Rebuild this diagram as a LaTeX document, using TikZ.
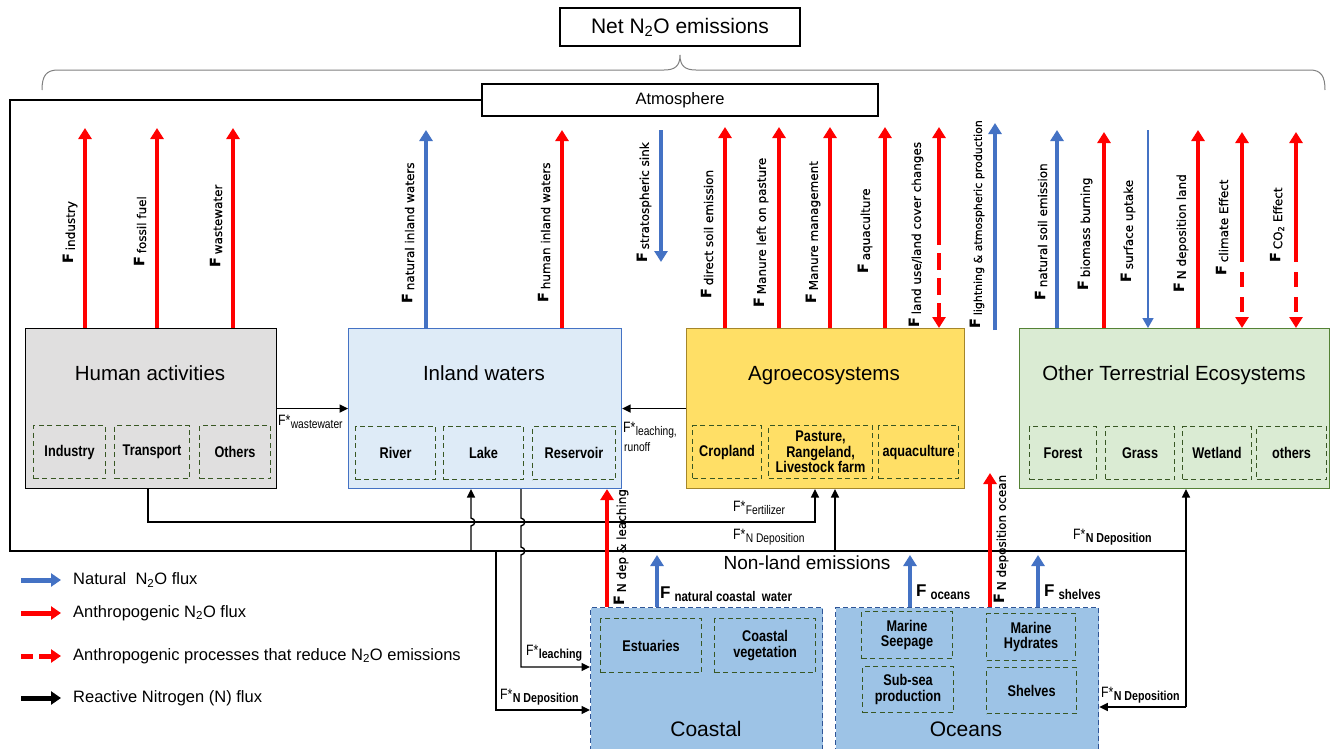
\documentclass[tikz,border=0pt]{standalone}
\usepackage{fontspec}
\setmainfont{Liberation Sans}
\newfontfamily\narf[FakeStretch=0.82]{Liberation Sans}
\newfontfamily\dvs[FakeBold=0.4]{DejaVu Sans}
\usetikzlibrary{arrows.meta}
\definecolor{nblue}{HTML}{4472C4}
\definecolor{nred}{HTML}{FF0000}
\definecolor{hgray}{HTML}{E0DFDF}
\definecolor{iblue}{HTML}{DEEBF7}
\definecolor{iblueb}{HTML}{4472C4}
\definecolor{ayel}{HTML}{FFDF66}
\definecolor{ayelb}{HTML}{A5862A}
\definecolor{ogreen}{HTML}{DAEBD3}
\definecolor{ogreenb}{HTML}{548235}
\definecolor{cblue}{HTML}{9DC3E6}
\definecolor{cblueb}{HTML}{2F5597}
\definecolor{dgreen}{HTML}{385723}
\definecolor{bracegray}{HTML}{808080}
\newcommand{\myVF}[2][12]{{\bfseries\fontsize{14}{14}\selectfont F}\kern3pt\raisebox{-2pt}{\fontsize{#1}{14}\selectfont #2}}
\newcommand{\myHF}[1]{{\bfseries\fontsize{17}{17}\selectfont F}\kern4pt\raisebox{-3pt}{\narf\bfseries\fontsize{14}{15}\selectfont #1}}
\newcommand{\mySF}[1]{F*\kern0.3pt\raisebox{-3pt}{\fontsize{12.5}{13}\selectfont #1}}
\newcommand{\mySFb}[1]{F*\kern0.3pt\raisebox{-3pt}{\bfseries\fontsize{13}{13}\selectfont #1}}
\begin{document}
\begin{tikzpicture}[x=1pt,y=-1pt,
  bigbox/.style={draw, line width=1.1pt, inner sep=0pt, anchor=north west},
  subbox/.style={draw=dgreen, line width=1.1pt, dash pattern=on 5pt off 3.5pt, inner sep=0pt, anchor=north west, font=\narf\bfseries\fontsize{15.5}{15.5}\selectfont, align=center},
  ttl/.style={font=\fontsize{20.5}{22}\selectfont, inner sep=0pt, anchor=base},
  flux/.style={line width=3.3pt, -{Triangle[width=13pt,length=11pt]}},
  nat/.style={flux, draw=nblue},
  ant/.style={flux, draw=nred},
  antd/.style={flux, draw=nred, dash pattern=on 17pt off 8pt},
  rn/.style={line width=1.4pt, -{Triangle[width=8pt,length=8.5pt]}},
  rline/.style={line width=1.4pt},
  vlab/.style={rotate=90, anchor=west, inner sep=0pt, font=\dvs},
  slab/.style={font=\narf\fontsize{15}{15}\selectfont, inner sep=0pt, anchor=west},
  hlab/.style={inner sep=0pt, anchor=west},
  leg/.style={font=\fontsize{16.5}{17}\selectfont, anchor=west, inner sep=0pt},
  legar/.style={line width=5pt, -{Triangle[width=13pt,length=10pt]}},
]
\useasboundingbox (0,0) rectangle (1331,748);
\clip (0,0) rectangle (1331,748);
\fill[white] (0,0) rectangle (1331,748);

% title and brace
\node[draw, line width=1.1pt, minimum width=240pt, minimum height=38pt, inner sep=0pt, font=\fontsize{21}{22}\selectfont] (net) at (680,27) {Net N\textsubscript{2}O emissions};
\coordinate (btip) at (680,55);
\draw[bracegray, line width=1pt] (42,90) .. controls (42,76) and (46,70) .. (58,70) -- (664,70) .. controls (675,70) and (680,66) .. (btip) .. controls (680,66) and (685,70) .. (696,70) -- (1310,70) .. controls (1321,70) and (1325,76) .. (1325,90);

% atmosphere frame
\node[draw, line width=1.3pt, minimum width=396pt, minimum height=32pt, inner sep=0pt, font=\fontsize{16.5}{17}\selectfont] (atm) at (680,100) {Atmosphere};
\coordinate (fr) at (1186,551);
\draw[rline] (atm.west) -| (10,551) -- (fr);

% main boxes
\node[bigbox, fill=hgray, minimum width=251pt, minimum height=160pt] (human) at (25,328) {};
\node[bigbox, fill=iblue, draw=iblueb, minimum width=273pt, minimum height=160pt] (inland) at (348,328) {};
\node[bigbox, fill=ayel, draw=ayelb, minimum width=278pt, minimum height=160pt] (agro) at (686,328) {};
\node[bigbox, fill=ogreen, draw=ogreenb, minimum width=310pt, minimum height=160pt] (other) at (1019,328) {};
\node[ttl] (humanT) at (150,380) {Human activities};
\node[ttl] (inlandT) at (484,380) {Inland waters};
\node[ttl] (agroT) at (824,380) {Agroecosystems};
\node[ttl] (otherT) at (1174,380) {Other Terrestrial Ecosystems};

% sub boxes
\node[subbox, minimum width=72pt, minimum height=53pt] (ind) at (33,425) {Industry};
\node[subbox, minimum width=75pt, minimum height=53pt] (tra) at (114,425) {Transport};
\node[subbox, minimum width=71pt, minimum height=53pt] (oth) at (199,425) {Others};
\node[subbox, minimum width=80pt, minimum height=53pt] (riv) at (355,426) {River};
\node[subbox, minimum width=80pt, minimum height=53pt] (lak) at (443,426) {Lake};
\node[subbox, minimum width=83pt, minimum height=53pt] (res) at (532,426) {Reservoir};
\node[subbox, minimum width=69pt, minimum height=53pt] (cro) at (692,425) {Cropland};
\node[subbox, minimum width=104pt, minimum height=53pt] (pas) at (768,425) {Pasture,\\Rangeland,\\Livestock farm};
\node[subbox, minimum width=80pt, minimum height=53pt] (aqu) at (878,425) {aquaculture};
\node[subbox, minimum width=67pt, minimum height=53pt] (for) at (1029,426) {Forest};
\node[subbox, minimum width=69pt, minimum height=53pt] (gra) at (1105,426) {Grass};
\node[subbox, minimum width=69pt, minimum height=53pt] (wet) at (1182,426) {Wetland};
\node[subbox, minimum width=70pt, minimum height=53pt] (oths) at (1256,426) {others};

% coastal and oceans
\node[bigbox, fill=cblue, draw=cblueb, dash pattern=on 5pt off 3pt, line width=1.3pt, minimum width=232pt, minimum height=150pt] (coastal) at (590,607) {};
\node[bigbox, fill=cblue, draw=cblueb, dash pattern=on 5pt off 3pt, line width=1.3pt, minimum width=263pt, minimum height=150pt] (oceans) at (835,607) {};
\node[ttl, font=\fontsize{21}{22}\selectfont] (coastalT) at (706,736) {Coastal};
\node[ttl, font=\fontsize{21}{22}\selectfont] (oceansT) at (966,736) {Oceans};
\node[subbox, minimum width=101pt, minimum height=54pt] (est) at (600,618) {Estuaries};
\node[subbox, minimum width=101pt, minimum height=54pt] (veg) at (714,618) {Coastal\\vegetation};
\node[subbox, minimum width=91pt, minimum height=47pt] (see) at (861,611) {Marine\\Seepage};
\node[subbox, minimum width=91pt, minimum height=46pt] (sub) at (862,666) {Sub-sea\\production};
\node[subbox, minimum width=89pt, minimum height=47pt] (hyd) at (986,613) {Marine\\Hydrates};
\node[subbox, minimum width=90pt, minimum height=46pt] (she) at (986,667) {Shelves};

% reactive nitrogen fluxes
\draw[rn] (human.east) -- (inland.west);
\node[slab] (lww) at (278,422) {\mySF{wastewater}};
\draw[rn] (agro.west) -- (inland.east);
\node[slab] (llr) at (623,430) {\mySF{leaching,}};
\node[slab, font=\narf\fontsize{12.5}{13}\selectfont] (lro) at (624,447) {runoff};
\draw[rn] (148,0 |- human.south) -- (148,522) -- (815,522) -- (815,0 |- agro.south);
\node[slab] (lfe) at (733,508) {\mySF{Fertilizer}};
\draw[rn] (835,551) -- (835,0 |- agro.south);
\node[slab] (lnd1) at (733,537) {\mySF{N Deposition}};
\draw[rn] (471,551) -- (471,526) .. controls (476,525) and (476,519) .. (471,518) -- (471,0 |- inland.south);
\draw[rn] (521,0 |- inland.south) -- (521,518) .. controls (526,519) and (526,525) .. (521,526) -- (521,547) .. controls (526,548) and (526,554) .. (521,555) -- (521,667) -- (coastal.west |- 0,667);
\draw[rn] (496,551) -- (496,710) -- (coastal.west |- 0,710);
\node[slab] (lle) at (526,653) {\mySFb{leaching}};
\node[slab] (lnd2) at (500,697) {\mySFb{N Deposition}};
\draw[rn] (1186,707) -- (1186,0 |- other.south);
\draw[rn] (1186,707) -- (oceans.east |- 0,707);
\draw[rline] (fr) -- (1186,707);
\node[slab] (lnd3) at (1073,537) {\mySFb{N Deposition}};
\node[slab] (lnd4) at (1101,695) {\mySFb{N Deposition}};

% human activities fluxes
\foreach \x in {85,157,233} \draw[ant] (\x,0 |- human.north) -- (\x,128);
\node[vlab] at (70,263) {\myVF{industry}};
\node[vlab] at (140,266) {\myVF{fossil fuel}};
\node[vlab] at (216,267) {\myVF{wastewater}};
% inland waters
\draw[nat] (426,0 |- inland.north) -- (426,130);
\node[vlab] at (408,303) {\myVF{natural inland waters}};
\draw[ant] (562,0 |- inland.north) -- (562,130);
\node[vlab] at (544,302) {\myVF{human inland waters}};
% stratospheric sink
\draw[nat] (661,130) -- (661,262);
\node[vlab] at (644,262) {\myVF{stratospheric sink}};
% agro
\foreach \x in {725,779,830,885} \draw[ant] (\x,0 |- agro.north) -- (\x,127);
\node[vlab] at (707,298) {\myVF{direct soil emission}};
\node[vlab] at (761,307) {\myVF{Manure left on pasture}};
\node[vlab] at (813,303) {\myVF{Manure management}};
\node[vlab] at (865,273) {\myVF{aquaculture}};
\coordinate (lu) at (939,228);
\draw[ant] (lu) -- (939,127);
\draw[antd] (lu) -- (939,0 |- agro.north);
\node[vlab] at (916,327) {\myVF{land use/land cover changes}};
\draw[nat] (995,330) -- (995,123);
\node[vlab] at (977,328) {\myVF[11]{lightning \& atmospheric production}};
% other terrestrial
\draw[nat] (1057,0 |- other.north) -- (1057,130);
\node[vlab] at (1041,300) {\myVF{natural soil emission}};
\draw[ant] (1104,0 |- other.north) -- (1104,132);
\node[vlab] at (1085,290) {\myVF{biomass burning}};
\draw[nblue, line width=1.5pt, -{Triangle[width=11pt,length=10pt]}] (1148,130) -- (1148,0 |- other.north);
\node[vlab] at (1128,282) {\myVF{surface uptake}};
\draw[ant] (1198,0 |- other.north) -- (1198,130);
\node[vlab] at (1181,292) {\myVF{N deposition land}};
\coordinate (ce) at (1242,247);
\draw[ant] (ce) -- (1242,132);
\draw[antd, dash pattern=on 15pt off 10pt] (ce) -- (1242,0 |- other.north);
\node[vlab] at (1222,275) {\myVF{climate Effect}};
\coordinate (co) at (1296,247);
\draw[ant] (co) -- (1296,132);
\draw[antd, dash pattern=on 15pt off 10pt] (co) -- (1296,0 |- other.north);
\node[vlab] at (1277,262) {\myVF{CO\textsubscript{2} Effect}};

% coastal / ocean fluxes
\draw[ant] (607,0 |- coastal.north) -- (607,0 |- inland.south);
\node[vlab] at (621,605) {\myVF{N dep \& leaching}};
\draw[nat] (657,0 |- coastal.north) -- (657,555);
\node[hlab] at (660,594) {\myHF{natural coastal\ \ water}};
\node[font=\fontsize{19}{20}\selectfont, inner sep=0pt] (nonland) at (807,563) {Non-land emissions};
\draw[nat] (910,0 |- oceans.north) -- (910,555);
\node[hlab] at (916,592) {\myHF{oceans}};
\draw[ant] (990,0 |- oceans.north) -- (990,473);
\node[vlab] at (1001,603) {\myVF{N deposition ocean}};
\draw[nat] (1038,0 |- oceans.north) -- (1038,555);
\node[hlab] at (1044,592) {\myHF{shelves}};

% legend
\draw[legar, nblue] (21,580) -- (61,580);
\node[leg] at (73,580) {Natural\ \ N\textsubscript{2}O flux};
\draw[legar, nred] (21,613) -- (61,613);
\node[leg] at (73,613) {Anthropogenic N\textsubscript{2}O flux};
\draw[line width=5pt, nred] (21,656) -- (33,656);
\draw[legar, nred] (39,656) -- (61,656);
\node[leg] at (73,656) {Anthropogenic processes that reduce N\textsubscript{2}O emissions};
\draw[legar, black] (21,698) -- (61,698);
\node[leg] at (73,698) {Reactive Nitrogen (N) flux};
\end{tikzpicture}
\end{document}
